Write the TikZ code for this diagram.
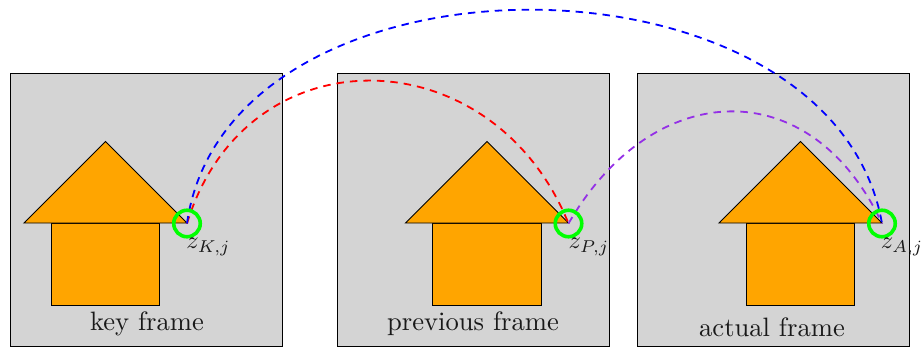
\documentclass[tikz,border=0pt]{standalone}
\definecolor{houseorange}{RGB}{255,165,0}
\definecolor{arcviolet}{RGB}{148,48,230}
\tikzset{
  x=1pt,y=-1pt,
  framebox/.style={draw=black,fill=black!17,line width=0.8pt,minimum width=272pt,minimum height=273pt,inner sep=0pt,anchor=north west},
  ring/.style={circle,draw=green,line width=3.6pt,minimum size=26.5pt,inner sep=0pt},
  housepart/.style={draw=black,fill=houseorange,line width=0.9pt},
  captext/.style={scale=2.66,text=black!90,inner sep=0pt},
  zlabel/.style={scale=2.45,text=black!90,inner sep=0pt},
  arcline/.style={line width=1.8pt,dash pattern=on 7.5pt off 6pt}
}
\begin{document}
\begin{tikzpicture}
\useasboundingbox (0,0) rectangle (921,349);
\node[framebox] (fk) at (10,73) {};
\node[framebox] (fp) at (337,73) {};
\node[framebox] (fa) at (637,73) {};
\foreach \dx in {0,381.5,695}{
  \begin{scope}[shift={(\dx pt,0pt)}]
    \draw[housepart] (51,223) rectangle (159.5,305);
    \draw[housepart] (24,223) -- (105.5,141.5) -- (187,223) -- cycle;
  \end{scope}
}
\coordinate (zk) at (187,223.5);
\coordinate (zp) at (568.5,223.5);
\coordinate (za) at (882,223.5);
\draw[arcline,red] (zk) to[out=73,in=112,looseness=1.36] (zp);
\draw[arcline,blue] (zk) to[out=82,in=100,looseness=1.065] (za);
\draw[arcline,arcviolet] (zp) to[out=60,in=115,looseness=1.38] (za);
\node[ring] (rk) at (zk) {};
\node[ring] (rp) at (zp) {};
\node[ring] (ra) at (za) {};
\node[zlabel] (lk) at (208.5,247) {$z_{K,j}$};
\node[zlabel] (lp) at (589,247) {$z_{P,j}$};
\node[zlabel] (la) at (902,247) {$z_{A,j}$};
\node[captext] (ck) at (147,324) {key frame};
\node[captext] (cp) at (473,324) {previous frame};
\node[captext] (ca) at (772,327) {actual frame};
\end{tikzpicture}
\end{document}
